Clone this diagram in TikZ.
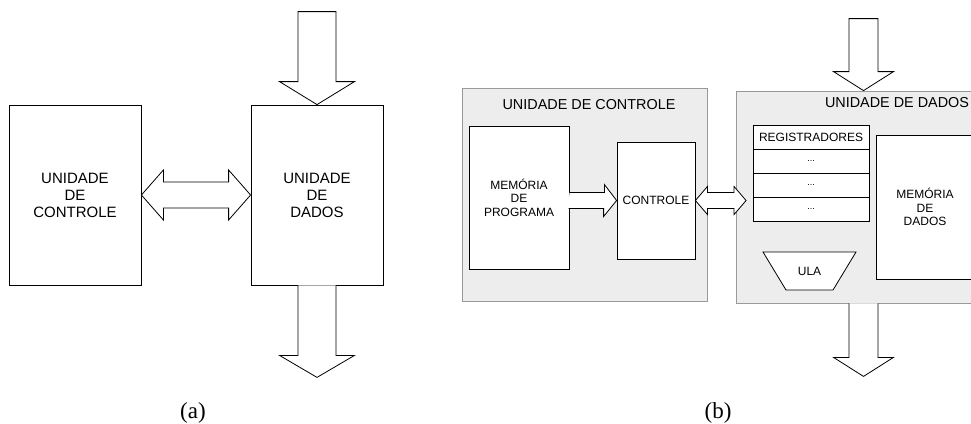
\documentclass[tikz,border=0pt]{standalone}
\usepackage{fontspec}
\setmainfont{Liberation Serif}
\setsansfont{Liberation Sans}
\usetikzlibrary{matrix,calc}

\begin{document}
\begin{tikzpicture}[x=1pt,y=-1pt,
	box/.style={draw,fill=white,line width=0.8pt,inner sep=0pt,align=center,font=\sffamily\fontsize{15}{17}\selectfont},
	sbox/.style={box,font=\sffamily\fontsize{12}{13.5}\selectfont},
	unit/.style={draw=black!40,fill=black!7,line width=0.8pt},
	utitle/.style={font=\sffamily\fontsize{14.4}{16}\selectfont,inner sep=0pt},
	blk/.style={draw,fill=white,line width=0.8pt,line join=miter},
	caption/.style={font=\fontsize{23}{26}\selectfont,anchor=base}]
\useasboundingbox (0,0) rectangle (971,423);

\node[box,minimum width=132,minimum height=180] (uc) at (75,195) {UNIDADE\\DE\\CONTROLE};
\node[box,minimum width=132,minimum height=180] (ud) at (317,195) {UNIDADE\\DE\\DADOS};
\draw[blk] (ud.north) -- ++(37.5,-23) -- ++(-18.5,0) -- ++(0,-70) -- ++(-38,0) -- ++(0,70) -- ++(-18.5,0) -- cycle;
\draw[blk] ($(ud.south)+(19,0)$) -- ++(0,70) -- ++(18.5,0) -- ++(-37.5,22) -- ++(-37.5,-22) -- ++(18.5,0) -- ++(0,-70);
\draw[blk] (uc.east) -- ++(22,-25) -- ++(0,12) -- ($(ud.west)+(-22,-13)$) -- ++(0,-12) -- (ud.west)
	-- ++(-22,25) -- ++(0,-12) -- ($(uc.east)+(22,13)$) -- ++(0,12) -- cycle;
\node[caption] (capa) at (193,418) {(a)};

\node[unit,minimum width=245,minimum height=213] (cu) at (584.5,194.5) {};
\node[utitle] (cutitle) at (589,105) {UNIDADE DE CONTROLE};
\node[sbox,minimum width=100,minimum height=143] (mp) at (519,197.5) {MEMÓRIA\\DE\\PROGRAMA};
\node[sbox,minimum width=78,minimum height=117] (ct) at (656,200.5) {CONTROLE};
\draw[blk] ($(mp.east|-ct.west)+(0,-8)$) -- ++(35,0) -- ++(0,-8) -- (ct.west) -- ++(-13,16) -- ++(0,-8) -- ++(-35,0);

\node[unit,minimum width=255,minimum height=212] (du) at (863.5,197) {};
\node[utitle] (dutitle) at (897,103) {UNIDADE DE DADOS};
\matrix (rg) [matrix of nodes,row sep=-0.8pt,
	nodes={draw,fill=white,line width=0.8pt,minimum width=116,minimum height=24,inner sep=0pt,font=\sffamily\fontsize{12}{13.5}\selectfont}]
	at (811,173.5)
{
	REGISTRADORES \\
	|[font=\sffamily\fontsize{9}{10}\selectfont]| ... \\
	|[font=\sffamily\fontsize{9}{10}\selectfont]| ... \\
	|[font=\sffamily\fontsize{9}{10}\selectfont]| ... \\};
\node[sbox,minimum width=98,minimum height=144] (md) at (925,207) {MEMÓRIA\\DE\\DADOS};
\draw[blk] (763,252) -- (856,252) -- (833,290) -- (786,290) -- cycle;
\node[font=\sffamily\fontsize{12}{13.5}\selectfont] (ula) at (809.5,271) {ULA};
\coordinate (rgin) at ($(rg.west|-ct.east)+(-3,0)$);
\draw[blk] (ct.east) -- ++(12,-14) -- ++(0,6) -- ($(rgin)+(-12,-8)$) -- ++(0,-6) -- (rgin)
	-- ++(-12,14) -- ++(0,-6) -- ($(ct.east)+(12,8)$) -- ++(0,6) -- cycle;
\draw[blk] (du.north) -- ++(30,-19) -- ++(-15.5,0) -- ++(0,-53) -- ++(-29,0) -- ++(0,53) -- ++(-15.5,0) -- cycle;
\draw[blk] ($(du.south)+(14.5,0)$) -- ++(0,54) -- ++(15.5,0) -- ++(-30,19) -- ++(-30,-19) -- ++(15.5,0) -- ++(0,-54);
\node[caption] (capb) at (718,418) {(b)};
\end{tikzpicture}
\end{document}
